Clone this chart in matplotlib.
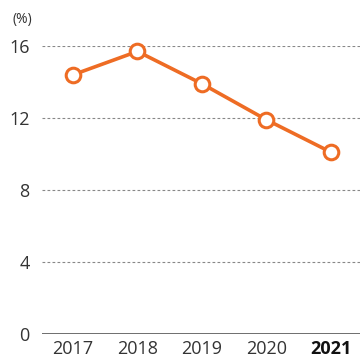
import matplotlib
matplotlib.use('Agg')
import matplotlib.pyplot as plt

years = [2017, 2018, 2019, 2020, 2021]
values = [14.4, 15.7, 13.9, 11.9, 10.1]
yticks = [0, 4, 8, 12, 16]

orange = '#ee6c24'
plt.rcParams['font.family'] = ['Open Sans', 'DejaVu Sans']

fig = plt.figure(figsize=(3.6, 3.6), dpi=100)
ax = fig.add_axes([42 / 360, 26 / 360, 318 / 360, 288 / 360])

ax.set_xlim(2017 - 0.48, 2021 + 0.45)
ax.set_ylim(0, 16)

for t in yticks[1:]:
    ax.axhline(t, color='#888888', lw=0.8, ls=(0, (2.5, 2)), zorder=1)
ax.axhline(0, color='#555555', lw=1.2, zorder=1)

ax.plot(years, values, color=orange, lw=2.6, marker='o', ms=10.5,
        mfc='white', mec=orange, mew=2.2, zorder=3, clip_on=False)

for s in ax.spines.values():
    s.set_visible(False)
ax.set_yticks(yticks)
ax.set_xticks(years)
ax.set_xticklabels([str(y) for y in years])
ax.tick_params(length=0, labelsize=13, colors='#333333')
ax.tick_params(axis='y', pad=9)
ax.tick_params(axis='x', pad=4)
ax.get_xticklabels()[-1].set_fontweight('bold')
ax.get_xticklabels()[-1].set_color('#111111')

fig.text(22 / 360, 1 - 20 / 360, '(%)', fontsize=10, color='#333333',
         ha='center', va='center')

fig.savefig('out.png', dpi=100)
